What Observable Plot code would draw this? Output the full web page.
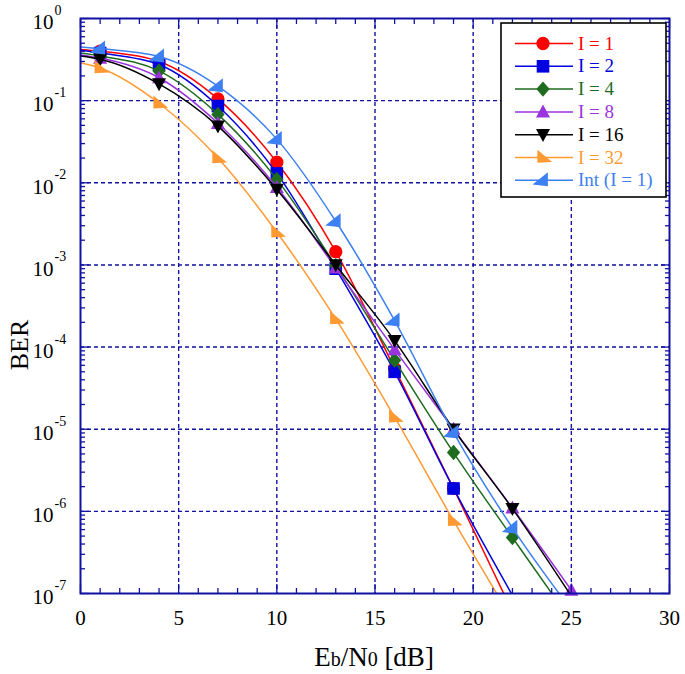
<!DOCTYPE html>
<html><head><meta charset="utf-8">
<script src="https://cdn.jsdelivr.net/npm/d3@7"></script>
<script src="https://cdn.jsdelivr.net/npm/@observablehq/plot@0.6"></script>
<style>body{margin:0;background:#fff} #chart{width:685px;height:674px}</style>
</head><body><div id="chart"></div>
<script>
// ---- data ----
const ebn0 = [0, 1, 4, 7, 10, 13, 16, 19, 22, 25];
const berI1  = [0.42, 0.40, 0.30, 0.105, 0.0178, 1.45e-3, 5.5e-5, 1.9e-6, 6.0e-8, null];
const berI2  = [0.41, 0.38, 0.275, 0.086, 0.013, 9.0e-4, 5.0e-5, 1.9e-6, 9.5e-8, null];
const berI4  = [0.38, 0.35, 0.23, 0.068, 0.011, 9.8e-4, 6.9e-5, 5.2e-6, 4.8e-7, 4.6e-8];
const berI8  = [0.36, 0.33, 0.19, 0.053, 0.0088, 9.2e-4, 9.3e-5, 1.0e-5, 1.1e-6, 1.1e-7];
const berI16 = [0.35, 0.32, 0.16, 0.049, 0.0083, 1.0e-3, 1.2e-4, 1.0e-5, 1.08e-6, 9.3e-8];
const berI32 = [0.29, 0.25, 0.093, 0.020, 0.0025, 2.2e-4, 1.4e-5, 7.7e-7, 4.8e-8, null];
const berInt = [0.45, 0.43, 0.345, 0.15, 0.034, 3.4e-3, 2.1e-4, 9.1e-6, 6.3e-7, 6.3e-8];
const seriesNames  = ["I = 1", "I = 2", "I = 4", "I = 8", "I = 16", "I = 32", "Int (I = 1)"];
const seriesValues = [berI1, berI2, berI4, berI8, berI16, berI32, berInt];
const seriesColors = ["#ff0000", "#0000e0", "#1f6b1f", "#9a33dd", "#000000", "#ff9a33", "#3d80f2"];
const xMajorTicks = [0, 5, 10, 15, 20, 25, 30];
const xMinorTicks = d3.range(0, 31).filter(d => d % 5 !== 0);
const yMajorTicks = [1e-7, 1e-6, 1e-5, 1e-4, 1e-3, 1e-2, 1e-1, 1];
const yMinorTicks = [];
for (let e = -7; e < 0; e++) for (let k = 2; k <= 9; k++) yMinorTicks.push(k * Math.pow(10, e));

// ---- marker shapes ----
const poly = pts => ({draw(ctx, size) {
  const r = Math.sqrt(size / Math.PI);
  ctx.moveTo(pts[0][0] * r, pts[0][1] * r);
  for (let i = 1; i < pts.length; i++) ctx.lineTo(pts[i][0] * r, pts[i][1] * r);
  ctx.closePath();
}});
const circleSym = {draw(ctx, size) { const r = Math.sqrt(size / Math.PI) * 0.95; ctx.moveTo(r, 0); ctx.arc(0, 0, r, 0, 2 * Math.PI); }};
const symbols = [
  circleSym,
  poly([[-0.9, -0.9], [0.9, -0.9], [0.9, 0.9], [-0.9, 0.9]]),
  poly([[0, -1.1], [0.95, 0], [0, 1.1], [-0.95, 0]]),
  poly([[0, -1.05], [1.0, 0.8], [-1.0, 0.8]]),
  poly([[0, 1.05], [1.0, -0.8], [-1.0, -0.8]]),
  poly([[-0.8, -1.1], [-0.8, 0.75], [1.3, 0.65]]),
  poly([[0.7, -1.15], [0.7, 0.85], [-1.5, 0.6]])
];

const rows = [];
seriesValues.forEach((vals, s) => vals.forEach((v, i) => { if (v != null) rows.push({x: ebn0[i], y: v, s}); }));

const navy = "#1212a2";
const serif = "'Liberation Serif', 'DejaVu Serif', serif";
const dash = "4,3";

const marks = [
  Plot.gridX(xMajorTicks.filter(d => d > 0 && d < 30), {stroke: navy, strokeOpacity: 1, strokeWidth: 1.4, strokeDasharray: dash}),
  Plot.gridY(yMajorTicks.filter(d => d > 1e-7 && d < 1), {stroke: navy, strokeOpacity: 1, strokeWidth: 1.4, strokeDasharray: dash})
];
seriesValues.forEach((_, s) => {
  const d = rows.filter(r => r.s === s);
  marks.push(Plot.line(d, {x: "x", y: "y", stroke: seriesColors[s], strokeWidth: 1.5, curve: "monotone-x", clip: true}));
  marks.push(Plot.dot(d.filter(r => r.x > 0 && r.y >= 1e-7), {x: "x", y: "y", symbol: symbols[s], r: 7, fill: seriesColors[s], stroke: "none"}));
});
const tickOpts = {stroke: navy, strokeWidth: 1.3, tickFormat: () => "", label: null};
marks.push(
  Plot.axisX(xMinorTicks, {anchor: "bottom", tickSize: -5, ...tickOpts}),
  Plot.axisX(xMajorTicks, {anchor: "bottom", tickSize: -9, ...tickOpts}),
  Plot.axisX(xMinorTicks, {anchor: "top", tickSize: -5, ...tickOpts}),
  Plot.axisX(xMajorTicks, {anchor: "top", tickSize: -9, ...tickOpts}),
  Plot.axisY(yMinorTicks, {anchor: "left", tickSize: -5, ...tickOpts}),
  Plot.axisY(yMajorTicks, {anchor: "left", tickSize: -9, ...tickOpts}),
  Plot.axisY(yMinorTicks, {anchor: "right", tickSize: -5, ...tickOpts}),
  Plot.axisY(yMajorTicks, {anchor: "right", tickSize: -9, ...tickOpts}),
  Plot.frame({stroke: navy, strokeWidth: 2}),
  Plot.axisX(xMajorTicks, {anchor: "bottom", tickSize: 0, tickPadding: 17, fontSize: 21, fontFamily: serif, fill: "black", tickFormat: d => String(d), label: null}),
  Plot.axisY(yMajorTicks, {anchor: "left", tickSize: 0, tickPadding: 27, fontSize: 21, fontFamily: serif, fill: "black", dy: 4, tickFormat: () => "10", label: null}),
  Plot.axisY(yMajorTicks, {anchor: "left", tickSize: 0, tickPadding: 27, textAnchor: "start", dx: 1, dy: -8, fontSize: 14, fontFamily: serif, fill: "black", tickFormat: d => String(Math.round(Math.log10(d))), label: null})
);

const chart = Plot.plot({
  width: 685, height: 674,
  marginLeft: 80, marginRight: 16, marginTop: 18, marginBottom: 81,
  style: {background: "white", fontFamily: serif},
  x: {domain: [0, 30]},
  y: {type: "log", domain: [1e-7, 1]},
  marks
});
document.getElementById("chart").appendChild(chart);

// ---- titles & legend ----
const svg = d3.select(chart);
svg.append("text").attr("transform", "translate(28,345) rotate(-90)").attr("text-anchor", "middle")
  .style("font-family", serif).attr("font-size", 26).attr("fill", "black").text("BER");
const xt = svg.append("text").attr("x", 374).attr("y", 666).attr("text-anchor", "middle")
  .style("font-family", serif).attr("font-size", 27).attr("fill", "black");
[["E", 27], ["b", 20], ["/N", 27], ["0", 20], [" [dB]", 27]].forEach(([t, fs]) => xt.append("tspan").attr("font-size", fs).text(t));

const lg = svg.append("g");
lg.append("rect").attr("x", 501).attr("y", 23).attr("width", 165).attr("height", 174)
  .attr("fill", "white").attr("stroke", "black").attr("stroke-width", 1.6);
seriesNames.forEach((name, s) => {
  const y = 43.5 + s * 22.8;
  lg.append("line").attr("x1", 515).attr("x2", 573).attr("y1", y).attr("y2", y)
    .attr("stroke", seriesColors[s]).attr("stroke-width", 1.5);
  lg.append("path").attr("transform", `translate(543,${y})`)
    .attr("d", d3.symbol(symbols[s], 49 * Math.PI)()).attr("fill", seriesColors[s]);
  lg.append("text").attr("x", 578).attr("y", y + 6).attr("text-anchor", "start")
    .style("font-family", serif).attr("font-size", 19)
    .attr("fill", seriesColors[s]).text(name);
});
</script>
</body></html>
